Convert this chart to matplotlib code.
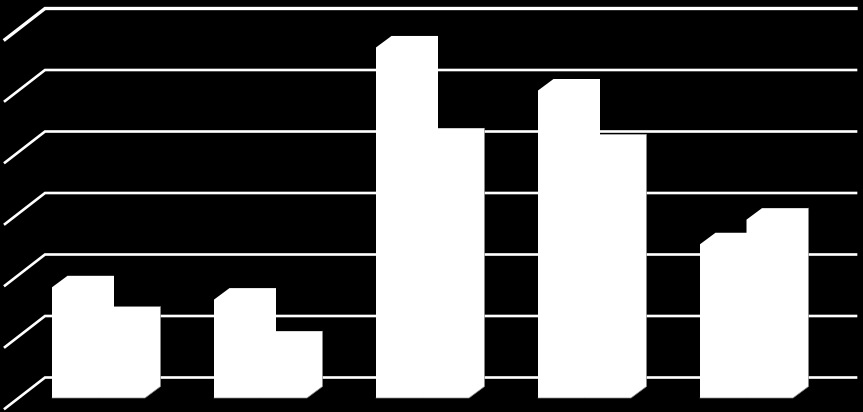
#!/usr/bin/python3

import matplotlib as mpl
mpl.use('Agg')
import matplotlib.pyplot as plt
from matplotlib.patches import Polygon

######################
## data
######################

groups = [0, 1, 2, 3, 4]
series_a = [1.8, 1.6, 5.7, 5.0, 2.5]
series_b = [1.3, 0.9, 4.2, 4.1, 2.9]
grid_values = [0, 1, 2, 3, 4, 5, 6]

######################
## 3d look, in data units
######################

px_x = 162.0  ## pixels per group
px_y = 61.5   ## pixels per value unit

bar_w = 46.5 / px_x
depth_x = 15.5 / px_x
depth_y = 11.5 / px_y

wall_x = -7 / px_x
wall_dx = 40 / px_x
wall_dy = 31 / px_y
wall_y0 = 20.5 / px_y  ## back wall zero sits above the bar base
grid_end = 804 / px_x

######################
## setup plot
######################

fig = plt.figure(figsize=(8.63, 4.12), dpi=100, facecolor='black')
ax = fig.add_axes([0, 0, 1, 1])
ax.set_xlim(-52 / px_x, 811 / px_x)
ax.set_ylim(-14 / px_y, 398 / px_y)
ax.axis('off')


def draw_bar(left, value):
    right = left + bar_w
    pts = [(left, 0), (left, value), (left + depth_x, value + depth_y),
           (right + depth_x, value + depth_y), (right + depth_x, depth_y), (right, 0)]
    ax.add_patch(Polygon(pts, closed=True, facecolor='white', edgecolor='none', zorder=3))
    return right


######################
## grid lines on the walls
######################

for v in grid_values:
    y = v + wall_y0
    lw = 2.4 if v == 6 else 1.9
    ax.plot([wall_x - wall_dx, wall_x, grid_end], [y - wall_dy, y, y],
            color='white', lw=lw, solid_joinstyle='miter', zorder=1)

######################
## bars
######################

for g, a, b in zip(groups, series_a, series_b):
    mid = draw_bar(g, a)
    end = draw_bar(mid, b)
    ## thin grey shade on the outer edges
    ax.plot([end + depth_x, end + depth_x, end, mid - bar_w],
            [b + depth_y, depth_y, 0, 0], color='#8a8a8a', lw=0.5, zorder=4)

plt.savefig('out.png', dpi=100, facecolor='black')
